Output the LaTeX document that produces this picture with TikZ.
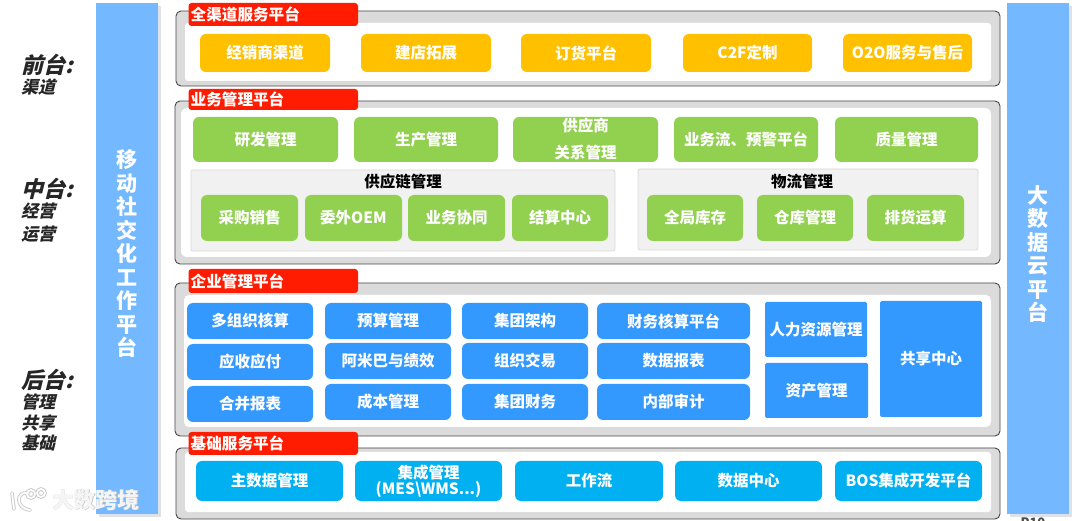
\documentclass[tikz,border=0pt]{standalone}
\usepackage{fontspec}
\setmainfont{Noto Sans CJK SC}
\newfontfamily\cjkslant[FakeSlant=0.25]{Noto Sans CJK SC}
\definecolor{barblue}{RGB}{116, 185, 255}
\definecolor{barshadow}{RGB}{222, 226, 232}
\definecolor{framegray}{RGB}{219, 219, 219}
\definecolor{frameline}{RGB}{70, 70, 70}
\definecolor{tagred}{RGB}{255, 28, 0}
\definecolor{chanorange}{RGB}{255, 192, 0}
\definecolor{bizgreen}{RGB}{146, 208, 80}
\definecolor{panelgray}{RGB}{241, 241, 241}
\definecolor{entblue}{RGB}{51, 153, 255}
\definecolor{basecyan}{RGB}{0, 176, 240}
\usepackage{tikz}
\usetikzlibrary{positioning,calc}
\newcommand{\integlabel}{集成管理\\[-2pt](MES\textbackslash WMS...)}
\tikzset{
    % every box is given by its two corners, so the styles only hold the looks
    framebox/.style={draw=frameline, line width=0.9pt, fill=framegray, rounded corners=5pt},
    innerbox/.style={fill=white, rounded corners=3pt},
    tagbox/.style={fill=tagred, rounded corners=3pt},
    tagtext/.style={text=white, font=\fontsize{15.6}{17}\selectfont\bfseries, anchor=west, inner sep=0pt},
    itembox/.style={rounded corners=6pt, text=white, font=\fontsize{15.5}{18}\selectfont\bfseries, align=center, inner sep=0pt},
    panelbox/.style={draw=black!15, line width=0.8pt, fill=panelgray, rounded corners=2pt},
    paneltext/.style={text=black, font=\fontsize{15.5}{17}\selectfont\bfseries, inner sep=0pt},
    bartext/.style={text=white, font=\fontsize{21}{23.5}\selectfont\bfseries, align=center, inner sep=0pt},
    headtext/.style={text=black!85, font=\fontsize{22}{24}\selectfont\cjkslant\bfseries, anchor=west, inner sep=0pt},
    subtext/.style={text=black!85, font=\fontsize{17}{20.5}\selectfont\cjkslant\bfseries, anchor=north west, align=left, inner sep=0pt},
    marktext/.style={font=\fontsize{22}{24}\selectfont\bfseries, inner sep=0pt},
    logoline/.style={line width=#1, line cap=round},
}
\begin{document}
\begin{tikzpicture}[x=1pt, y=-1pt]
    \useasboundingbox (0,0) rectangle (1080,521);
    \fill[white] (0,0) rectangle (1080,521);

    % Side bars
    \fill[barshadow] (99,6) rectangle (161,517);
    \fill[barshadow] (1010,6) rectangle (1072,517);
    \fill[barblue] (96,3) rectangle (158,514);
    \fill[barblue] (1007,3) rectangle (1069,514);
    \node[bartext] (mobilebar) at (127,254) {移\\动\\社\\交\\化\\工\\作\\平\\台};
    \node[bartext] (cloudbar) at (1038,254) {大\\数\\据\\云\\平\\台};

    % Left labels
    \node[headtext] (fronthead) at (21,65) {前台:};
    \node[subtext] (frontsub) at (21,79) {渠道};
    \node[headtext] (midhead) at (21,189) {中台:};
    \node[subtext] (midsub) at (21,203) {经营\\[2.5pt]运营};
    \node[headtext] (backhead) at (21,380) {后台:};
    \node[subtext] (backsub) at (21,394) {管理\\共享\\基础};

    % Platform frames
    \draw[framebox] (176,11) rectangle (1000,86);
    \fill[innerbox] (185,23) rectangle (991,81);
    \draw[framebox] (175,101) rectangle (1000,264);
    \fill[innerbox, rounded corners=6pt] (181,108) rectangle (991,257);
    \draw[framebox] (175,283) rectangle (1000,436);
    \fill[innerbox, rounded corners=5pt] (184,295) rectangle (991,427);
    \draw[framebox] (176,448) rectangle (1000,519);
    \fill[innerbox] (185,452) rectangle (991,512);

    % Channel platform
    \foreach \name/\xa/\xb/\label in {dealer/200/330/经销商渠道, store/361/491/建店拓展, order/521/651/订货平台, ctof/683/812/C2F定制, oto/843/972/O2O服务与售后}
        \node[itembox, fill=chanorange, minimum width=\xb pt-\xa pt, minimum height=38pt] (\name) at ({(\xa+\xb)/2},53) {\label};

    % Business platform, top row
    \foreach \name/\xa/\xb/\label in {research/193/338/研发管理, produce/354/498/生产管理, supplier/513/658/供应商\\[9pt]关系管理, flow/674/818/业务流、预警平台, quality/835/978/质量管理}
        \node[itembox, fill=bizgreen, minimum width=\xb pt-\xa pt, minimum height=45pt] (\name) at ({(\xa+\xb)/2},139.5) {\label};

    % Supply chain and logistics panels
    \draw[panelbox] (191,170) rectangle (615,251);
    \node[paneltext] (chainhead) at (403,182) {供应链管理};
    \draw[panelbox] (638,169) rectangle (978,250);
    \node[paneltext] (logihead) at (802,182) {物流管理};
    \foreach \name/\xa/\xb/\label in {purchase/201/298/采购销售, oem/305/402/委外OEM, collab/408/505/业务协同, settle/512/608/结算中心, stock/647/743/全局库存, depot/757/853/仓库管理, ship/867/964/排货运算}
        \node[itembox, fill=bizgreen, minimum width=\xb pt-\xa pt, minimum height=46pt] (\name) at ({(\xa+\xb)/2},218) {\label};

    % Enterprise platform
    \foreach \name/\xa/\xb/\ya/\yb/\label in {multiorg/187/313/303/339/多组织核算, payable/187/313/344/380/应收应付, merge/187/313/386/422/合并报表,
        budget/325/451/303/339/预算管理, amoeba/325/451/343/379/阿米巴与绩效, cost/325/451/384/420/成本管理,
        group/462/588/303/339/集团架构, trade/462/588/343/379/组织交易, finance/462/588/384/420/集团财务,
        account/597/750/303/339/财务核算平台, report/597/750/343/379/数据报表, audit/597/750/384/420/内部审计}
        \node[itembox, fill=entblue, minimum width=\xb pt-\xa pt, minimum height=\yb pt-\ya pt] (\name) at ({(\xa+\xb)/2},{(\ya+\yb)/2}) {\label};
    \foreach \name/\xa/\xb/\ya/\yb/\label in {human/765/867/302/357/人力资源管理, asset/765/868/363/418/资产管理, shared/880/982/301/417/共享中心}
        \node[itembox, rounded corners=1.5pt, fill=entblue, minimum width=\xb pt-\xa pt, minimum height=\yb pt-\ya pt] (\name) at ({(\xa+\xb)/2},{(\ya+\yb)/2}) {\label};

    % Base platform
    \foreach \name/\xa/\xb/\label in {master/196/343/主数据管理, integ/355/502/\integlabel, workflow/515/663/工作流, datacenter/675/822/数据中心, bos/835/982/BOS集成开发平台}
        \node[itembox, fill=basecyan, minimum width=\xb pt-\xa pt, minimum height=40pt] (\name) at ({(\xa+\xb)/2},481) {\label};

    % Red tags
    \foreach \name/\ya/\yb/\label in {tagchannel/3/26/全渠道服务平台, tagbiz/89/110/业务管理平台, tagent/269/293/企业管理平台, tagbase/432/455/基础服务平台} {
        \fill[tagbox] (188.5,\ya) rectangle (358,\yb);
        \node[tagtext] (\name) at (190.5,{(\ya+\yb)/2}) {\label};
    }

    % Watermark
    \foreach \col/\wid in {black!22/3.6pt, white/1.8pt} {
        \draw[logoline=\wid, draw=\col] (12,493) -- (14,509);
        \draw[logoline=\wid, draw=\col] (28,493) .. controls (16,491) and (15,508) .. (30,510);
        \draw[logoline=\wid, draw=\col] (31,494) circle (4pt);
        \draw[logoline=\wid, draw=\col] (41,493) circle (4pt);
    }
    \node[marktext, text=black!22] (markshadow) at (96.6,500.6) {大数跨境};
    \node[marktext, text=white!92!gray] (mark) at (96,500) {大数跨境};

    % Page number, cut off by the lower edge
    \node[text=black!70, font=\fontsize{13}{15}\selectfont\bfseries, inner sep=0pt] (pagenum) at (1033,523) {P10};
\end{tikzpicture}
\end{document}
